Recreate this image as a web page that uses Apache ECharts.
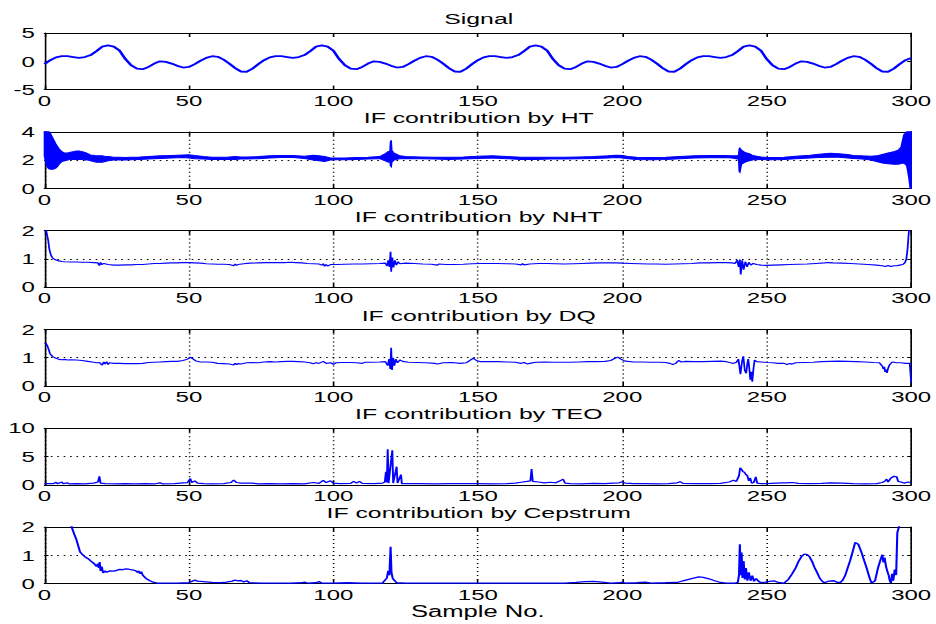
<!DOCTYPE html>
<html><head><meta charset="utf-8">
<script src="https://cdn.jsdelivr.net/npm/echarts@6/dist/echarts.min.js"></script>
<style>
html,body{margin:0;padding:0;background:#fff;overflow:hidden;}
#wrap{width:936px;height:624px;overflow:hidden;background:#fff;}
#chart{width:585px;height:624px;transform:scaleX(1.6);transform-origin:0 0;}
</style></head>
<body><div id="wrap"><div id="chart"></div></div>
<script>
// ---------- data ----------
const xTicks = [0, 50, 100, 150, 200, 250, 300];
const titles = ['Signal', 'IF contribution by HT', 'IF contribution by NHT', 'IF contribution by DQ', 'IF contribution by TEO', 'IF contribution by Cepstrum'];
const yTicks = [[-5, 0, 5], [0, 2, 4], [0, 1, 2], [0, 1, 2], [0, 5, 10], [0, 1, 2]];
const xName = 'Sample No.';

// Signal sampled every 2 samples (x = 0,2,...,300)
const sigStep = 2;
const sigY = [
 -0.5, 0.2, 0.7, 0.9, 0.9, 0.75, 0.6, 0.75, 1.1, 1.8, 2.6, 2.8, 2.6, 1.9, 0.4, -0.7, -1.3, -1.4, -1.0, -0.4, 0.0, -0.1, -0.4, -0.8, -1.1, -1.0, -0.5, 0.1, 0.6, 0.9, 0.8, 0.3, -0.4, -1.2, -1.8, -1.85, -1.3,
 -0.5, 0.2, 0.7, 0.9, 0.9, 0.75, 0.6, 0.75, 1.1, 1.8, 2.6, 2.8, 2.6, 1.9, 0.4, -0.7, -1.3, -1.4, -1.0, -0.4, 0.0, -0.1, -0.4, -0.8, -1.1, -1.0, -0.5, 0.1, 0.6, 0.9, 0.8, 0.3, -0.4, -1.2, -1.8, -1.85, -1.3,
 -0.5, 0.2, 0.7, 0.9, 0.9, 0.75, 0.6, 0.75, 1.1, 1.8, 2.6, 2.8, 2.6, 1.9, 0.4, -0.7, -1.3, -1.4, -1.0, -0.4, 0.0, -0.1, -0.4, -0.8, -1.1, -1.0, -0.5, 0.1, 0.6, 0.9, 0.8, 0.3, -0.4, -1.2, -1.8, -1.85, -1.3,
 -0.5, 0.2, 0.7, 0.9, 0.9, 0.75, 0.6, 0.75, 1.1, 1.8, 2.6, 2.8, 2.6, 1.9, 0.4, -0.7, -1.3, -1.4, -1.0, -0.4, 0.0, -0.1, -0.4, -0.8, -1.1, -1.0, -0.5, 0.1, 0.6, 0.9, 0.8, 0.3, -0.4, -1.2, -1.8, -1.85, -1.3,
 -0.5, 0.2, 0.6
];

// HT: noisy band, [x, lower envelope, upper envelope]
const htBand = [
 [0,2.3,4.0],[0.5,1.8,4.0],[1,1.5,4.0],[1.5,1.4,4.0],[2,1.35,3.9],[2.5,1.35,3.7],[3,1.35,3.5],[3.5,1.4,3.3],[4,1.45,3.1],[4.5,1.55,2.95],
 [5,1.7,2.8],[5.5,1.8,2.7],[6,1.9,2.6],[7,1.95,2.5],[8,2.0,2.5],[9,2.05,2.55],[10,2.05,2.6],[11,2.05,2.65],[12,2.05,2.65],[13,2.05,2.6],
 [14,2.0,2.55],[15,2.0,2.45],[16,1.95,2.35],[17,1.9,2.35],[18,1.85,2.3],[19,1.85,2.3],[20,1.85,2.3],[21,1.9,2.25],[22,1.95,2.25],[24,2.0,2.2],
 [26,2.0,2.2],[28,2.0,2.18],[30,2.02,2.2],[33,2.05,2.22],[36,2.08,2.25],[40,2.12,2.3],[44,2.15,2.33],[48,2.18,2.36],[50,2.15,2.38],[52,2.1,2.32],
 [55,2.08,2.25],[58,2.05,2.2],[60,2.05,2.2],[63,2.05,2.2],[66,2.05,2.25],[68,2.08,2.22],[70,2.08,2.22],[74,2.1,2.25],[78,2.15,2.3],[82,2.18,2.33],
 [86,2.18,2.32],[90,2.12,2.28],[93,2.0,2.35],[95,1.95,2.3],[97,1.9,2.25],[99,2.0,2.15],[101,2.02,2.15],[104,2.03,2.15],[108,2.05,2.18],[112,2.08,2.2],
 [116,2.1,2.25],[118,1.95,2.45],[119,1.85,2.6],[119.6,1.9,2.6],[119.8,1.6,3.3],[120,1.55,3.4],[120.2,1.85,2.7],[120.5,1.9,2.6],[121,2.0,2.5],[122,2.05,2.4],
 [123,2.1,2.3],[125,2.12,2.25],[130,2.1,2.22],[135,2.08,2.2],[140,2.05,2.2],[145,2.08,2.22],[150,2.12,2.28],[155,2.15,2.3],[160,2.1,2.25],[165,2.05,2.2],
 [170,2.05,2.2],[175,2.08,2.2],[180,2.08,2.2],[185,2.1,2.22],[190,2.12,2.25],[195,2.15,2.3],[198,2.18,2.35],[200,2.15,2.32],[202,2.1,2.25],[205,2.05,2.2],
 [210,2.03,2.18],[215,2.05,2.2],[220,2.1,2.25],[225,2.15,2.3],[230,2.17,2.32],[235,2.18,2.33],[238,2.15,2.3],[239.5,2.1,2.3],[240.3,2.05,2.35],[240.5,1.2,2.8],
 [240.7,1.15,2.85],[241.2,1.7,2.7],[242,1.8,2.6],[243,1.9,2.5],[244,1.95,2.45],[245,2.0,2.35],[246,2.02,2.3],[248,2.05,2.22],[250,2.02,2.18],[253,2.02,2.18],
 [256,2.05,2.2],[260,2.1,2.28],[265,2.15,2.35],[268,2.18,2.42],[272,2.2,2.48],[275,2.2,2.45],[278,2.15,2.4],[280,2.12,2.33],[283,2.08,2.3],[286,2.0,2.28],
 [288,1.9,2.3],[290,1.8,2.4],[292,1.75,2.5],[294,1.7,2.6],[295.5,1.7,2.7],[296.5,1.75,2.9],[297.5,1.8,3.8],[298.5,1.6,4.0],[299.2,0.8,4.0],[299.7,0,4.0],[300,0,4.0]
];

const nhtData = [[0,2.3],[0.6,2.0],[1.0,1.8],[1.3,1.65],[1.6,1.4],[1.9,1.25],[2.3,1.12],[2.7,1.05],[3.2,1.0],[4,0.96],[5,0.93],[6,0.91],[7,0.9],[9,0.89],[11,0.89],[13,0.88],[15,0.88],[17,0.87],[18.5,0.86],[19,0.76],[19.4,0.88],[19.8,0.8],[20.5,0.84],[22,0.8],[24,0.78],[26,0.78],[28,0.79],[30,0.79],[32,0.8],[34,0.8],[36,0.82],[38,0.84],[40,0.84],[42,0.85],[44,0.86],[46,0.86],[48,0.87],[50,0.87],[52,0.86],[54,0.85],[56,0.83],[58,0.82],[60,0.81],[62,0.81],[64,0.8],[65.5,0.76],[66,0.82],[66.5,0.77],[67,0.8],[69,0.83],[71,0.85],[74,0.86],[77,0.87],[80,0.87],[83,0.87],[85,0.88],[87,0.87],[89,0.86],[91,0.84],[93,0.83],[95,0.82],[96,0.78],[96.5,0.83],[97,0.74],[97.5,0.8],[98,0.75],[99,0.8],[101,0.8],[104,0.81],[107,0.82],[110,0.82],[113,0.83],[116,0.84],[118,0.85],[118.6,0.75],[119,0.95],[119.4,0.72],[119.8,1.25],[120,0.55],[120.4,1.05],[120.8,0.7],[121.3,0.95],[121.8,0.78],[122.4,0.9],[123,0.83],[125,0.85],[128,0.84],[131,0.82],[134,0.81],[136,0.78],[136.5,0.82],[139,0.8],[142,0.8],[145,0.81],[148,0.83],[151,0.84],[154,0.84],[157,0.84],[160,0.83],[163,0.82],[165,0.79],[165.5,0.83],[166,0.79],[168,0.82],[171,0.84],[174,0.84],[177,0.83],[180,0.82],[183,0.83],[186,0.84],[189,0.85],[192,0.86],[195,0.86],[198,0.86],[200,0.85],[203,0.84],[206,0.83],[209,0.82],[212,0.82],[215,0.81],[218,0.82],[221,0.83],[224,0.84],[227,0.86],[230,0.86],[233,0.87],[236,0.87],[238,0.86],[239,0.84],[239.8,0.95],[240.3,0.72],[240.7,0.98],[241,0.45],[241.5,0.95],[242,0.62],[242.6,0.9],[243.2,0.72],[243.8,0.88],[244.5,0.78],[245.3,0.84],[246.5,0.8],[248,0.78],[250,0.77],[252,0.78],[255,0.79],[258,0.8],[261,0.81],[264,0.82],[267,0.84],[270,0.86],[271,0.87],[273,0.86],[276,0.85],[279,0.84],[282,0.82],[285,0.8],[288,0.78],[290,0.76],[291,0.73],[292,0.77],[293,0.73],[294,0.76],[295,0.76],[296,0.78],[297,0.8],[297.8,0.86],[298.3,0.98],[298.7,1.3],[299,1.7],[299.3,2.1]];

const dqData = [[0,1.52],[0.5,1.5],[1,1.42],[1.5,1.28],[1.9,1.15],[2.4,1.08],[3,1.03],[4,0.98],[5,0.94],[6,0.93],[7,0.94],[8,0.92],[9,0.93],[11,0.92],[13,0.9],[15,0.87],[17,0.84],[18,0.82],[19,0.83],[20,0.74],[20.5,0.85],[21,0.78],[21.5,0.86],[22,0.76],[22.5,0.82],[24,0.8],[26,0.8],[28,0.79],[30,0.79],[32,0.79],[34,0.8],[36,0.83],[38,0.84],[40,0.85],[42,0.86],[44,0.87],[46,0.87],[48,0.9],[49.5,0.95],[50.5,1.02],[51.5,0.95],[52.5,0.88],[54,0.85],[56,0.85],[58,0.84],[60,0.8],[62,0.79],[64,0.78],[65.5,0.74],[66,0.8],[66.5,0.75],[67,0.79],[68,0.78],[70,0.82],[72,0.83],[74,0.82],[76,0.85],[78,0.86],[80,0.85],[82,0.86],[84,0.87],[86,0.87],[88,0.86],[90,0.85],[92,0.82],[93,0.79],[94,0.82],[95,0.8],[96.5,0.87],[97.5,0.8],[99,0.82],[100,0.77],[101,0.82],[103,0.83],[106,0.83],[108,0.82],[110,0.8],[111,0.84],[113,0.84],[116,0.85],[118,0.86],[118.8,0.72],[119.3,0.95],[119.7,0.6],[120,1.35],[120.3,0.57],[120.7,1.0],[121.1,0.72],[121.6,0.95],[122.2,0.82],[123,0.92],[124,0.87],[126,0.84],[129,0.83],[132,0.82],[135,0.8],[136,0.78],[138,0.82],[141,0.83],[144,0.8],[146,0.82],[147.5,0.92],[148.5,0.98],[149.5,0.9],[151,0.86],[154,0.86],[157,0.86],[160,0.85],[163,0.84],[165,0.8],[166,0.83],[167,0.78],[168,0.8],[170,0.84],[173,0.85],[176,0.84],[179,0.84],[182,0.84],[185,0.85],[188,0.86],[191,0.86],[194,0.87],[196,0.9],[197.5,0.98],[198.5,1.02],[199.5,0.95],[201,0.88],[204,0.85],[207,0.85],[210,0.84],[213,0.84],[215,0.83],[216.5,0.8],[217.5,0.76],[218.5,0.8],[219.5,0.9],[220.5,0.85],[222,0.87],[225,0.86],[228,0.86],[231,0.87],[234,0.88],[236,0.86],[237.5,0.82],[238.5,0.8],[239.5,0.84],[240.2,0.95],[240.9,0.42],[241.5,0.9],[241.9,1.05],[242.4,0.55],[242.9,0.45],[243.3,0.8],[243.6,0.95],[244,0.6],[244.3,0.22],[244.7,0.5],[245,0.15],[245.4,0.6],[245.8,0.92],[246.5,0.86],[248,0.85],[250,0.83],[252,0.82],[254,0.8],[256,0.8],[257,0.76],[258,0.8],[258.5,0.77],[260,0.82],[263,0.83],[266,0.84],[269,0.86],[272,0.87],[275,0.88],[278,0.87],[281,0.86],[284,0.85],[287,0.83],[289,0.82],[290,0.7],[290.4,0.6],[290.7,0.68],[291.0,0.5],[291.3,0.58],[291.6,0.46],[292.0,0.62],[292.5,0.75],[293.5,0.85],[295,0.82],[296.5,0.82],[298,0.8],[299.5,0.8],[299.8,0.4],[300,0.12]];

const teoData = [[0,0.2],[3,0.2],[4,0.45],[4.5,0.2],[6,0.5],[6.5,0.2],[8,0.35],[8.5,0.15],[11,0.2],[14,0.15],[17,0.3],[18.5,0.5],[19,1.5],[19.4,0.3],[21,0.2],[25,0.15],[28,0.2],[31,0.15],[35,0.2],[38,0.15],[40,0.35],[41,0.15],[45,0.2],[48,0.35],[49.5,0.4],[50.5,1.1],[51,0.4],[52,0.7],[53,0.3],[55,0.2],[58,0.15],[62,0.2],[64.5,0.4],[65.5,0.85],[66.5,0.4],[68,0.3],[72,0.3],[74,0.15],[78,0.2],[82,0.15],[86,0.2],[90,0.15],[93,0.4],[95,0.25],[96.5,0.8],[97.5,0.4],[99,0.7],[100,0.3],[102,0.2],[106,0.25],[107,0.6],[108,0.3],[109,0.6],[110,0.25],[114,0.2],[117,0.3],[117.8,0.5],[118.2,2.3],[118.5,0.4],[118.8,6.3],[119.1,0.3],[120.4,6.1],[120.7,0.3],[121.9,3.2],[122.2,0.3],[123.4,1.8],[123.7,0.2],[126,0.2],[130,0.2],[135,0.15],[140,0.2],[145,0.2],[150,0.2],[155,0.15],[160,0.2],[163,0.3],[165,0.45],[167,0.6],[168.2,0.7],[168.6,2.8],[169,0.6],[171,0.5],[173,0.35],[175,0.45],[177,0.35],[178.5,0.7],[179.5,1.0],[180.2,0.3],[182,0.2],[186,0.15],[190,0.25],[194,0.2],[197,0.3],[199,0.35],[200,0.55],[201,0.3],[204,0.2],[208,0.2],[212,0.15],[216,0.2],[219,0.35],[220,0.55],[221,0.25],[225,0.2],[230,0.2],[234,0.25],[237,0.5],[238.5,0.8],[239.5,0.6],[240.4,1.6],[240.8,3.0],[241.3,2.7],[241.8,2.3],[242.3,2.2],[242.8,1.8],[243.3,1.6],[243.8,0.7],[244.3,1.2],[244.8,0.3],[245.5,0.4],[246.2,1.4],[246.7,0.3],[248,0.2],[250,0.2],[253,0.3],[256,0.35],[259,0.4],[261,0.25],[265,0.2],[269,0.25],[272,0.35],[276,0.3],[280,0.2],[284,0.15],[288,0.2],[290,0.4],[291,0.7],[291.5,1.0],[292,0.5],[293,1.2],[294,1.5],[295,1.4],[295.5,0.6],[296.5,0.5],[297.5,0.3],[299,0.5],[300,0.3]];

const cepData = [[5,3.5],[8,2.5],[9.4,2.0],[10.3,1.75],[11.1,1.54],[11.8,1.3],[12.3,1.12],[13.2,1.02],[14,0.95],[15.1,0.88],[16,0.8],[17,0.72],[17.6,0.66],[18,0.6],[18.5,0.7],[18.8,0.55],[19.1,0.76],[19.4,0.45],[19.8,0.6],[20.3,0.38],[21,0.45],[21.5,0.4],[22.7,0.45],[24,0.44],[25,0.47],[26,0.5],[27,0.49],[28.4,0.52],[29.5,0.5],[30.7,0.48],[31.5,0.46],[32.2,0.4],[32.6,0.45],[33,0.35],[33.5,0.42],[34,0.3],[35.3,0.17],[36.5,0.1],[37.6,0.05],[39,0.02],[42,0.02],[46,0.02],[50,0.03],[51,0.08],[52,0.12],[53,0.09],[55,0.07],[58,0.04],[61,0.03],[63,0.05],[65,0.09],[66,0.12],[67,0.1],[68,0.11],[69,0.06],[70,0.1],[71,0.03],[75,0.02],[85,0.02],[89,0.03],[90,0.05],[91,0.02],[94,0.03],[95,0.07],[96,0.02],[100,0.02],[105,0.03],[110,0.02],[117,0.02],[118.5,0.2],[119,0.45],[119.4,0.3],[119.8,1.3],[120.1,0.4],[120.5,0.2],[121,0.12],[122,0.03],[125,0.02],[130,0.02],[140,0.02],[150,0.02],[160,0.02],[170,0.02],[180,0.02],[184,0.04],[187,0.07],[190,0.08],[193,0.05],[196,0.02],[199,0.03],[200,0.05],[201,0.02],[205,0.03],[208,0.05],[210,0.02],[215,0.03],[219,0.04],[221,0.1],[223,0.15],[225,0.2],[226.5,0.24],[228,0.22],[230,0.17],[232,0.1],[234,0.04],[236,0.02],[239,0.02],[240,0.04],[240.4,0.3],[240.7,1.39],[241,0.3],[241.3,1.1],[241.6,0.2],[242,0.8],[242.4,0.15],[242.8,0.55],[243.3,0.1],[243.8,0.4],[244.4,0.1],[245,0.28],[245.6,0.08],[246.3,0.18],[247.2,0.08],[248,0.03],[249.5,0.05],[251,0.08],[252.5,0.1],[254,0.04],[256,0.02],[257.5,0.15],[258.7,0.33],[260,0.55],[260.9,0.76],[262,0.95],[263,1.04],[264,1.02],[264.8,0.95],[265.7,0.78],[266.5,0.58],[267.4,0.4],[268.3,0.2],[269.2,0.08],[270,0.03],[271.5,0.09],[273.3,0.1],[274.5,0.04],[275.5,0.04],[276.3,0.12],[277.2,0.3],[278,0.55],[278.9,0.82],[279.8,1.15],[280.6,1.45],[281.7,1.39],[282.8,1.1],[283.7,0.82],[284.6,0.55],[285.7,0.17],[286.3,0.02],[287.5,0.1],[288.5,0.55],[289.4,0.85],[290,1.02],[290.4,0.75],[290.8,0.92],[291.3,0.6],[291.7,0.45],[292.2,0.3],[292.6,0.1],[293,0.02],[293.4,0.35],[293.8,0.1],[294.3,0.5],[294.8,0.3],[295.2,1.8],[295.9,2.05]];

// ---------- layout / style ----------
const BLUE = '#0000ff';
const FONT = 'Liberation Sans, Arial, Helvetica, sans-serif';
const tops = [33, 131.8, 230.6, 329.4, 428.2, 527];
const H = 56.6, L = 27.8, R = 14.4;
const plotCenter = L + (585 - L - R) / 2;

const grids = [], xAxes = [], yAxes = [], series = [], titleList = [];
tops.forEach((t, i) => {
  grids.push({left: L, right: R, top: t, height: H, containLabel: false});
  const yt = yTicks[i];
  const hasGrid = i > 0;
  const split = {show: hasGrid, lineStyle: {color: '#000', width: 1, type: [1, 3]}};
  const lbl = {color: '#000', fontSize: 15, fontFamily: FONT};
  const isLast = i === tops.length - 1;
  xAxes.push({
    gridIndex: i, type: 'value', position: 'bottom',
    min: xTicks[0], max: xTicks[xTicks.length - 1], interval: xTicks[1] - xTicks[0],
    axisLine: {show: true, onZero: false, lineStyle: {color: '#000', width: 1}},
    axisTick: {show: true, inside: true, length: 4, lineStyle: {color: '#000'}},
    axisLabel: Object.assign({margin: 3.5}, lbl),
    splitLine: split,
    name: isLast ? xName : '', nameLocation: 'middle', nameGap: 20,
    nameTextStyle: {color: '#000', fontSize: 16, fontFamily: FONT}
  });
  xAxes.push({
    gridIndex: i, type: 'value', position: 'top',
    min: xTicks[0], max: xTicks[xTicks.length - 1], interval: xTicks[1] - xTicks[0],
    axisLine: {show: true, onZero: false, lineStyle: {color: '#000', width: 1}},
    axisTick: {show: true, inside: true, length: 4, lineStyle: {color: '#000'}},
    axisLabel: {show: false}, splitLine: {show: false}
  });
  yAxes.push({
    gridIndex: i, type: 'value', position: 'left',
    min: yt[0], max: yt[yt.length - 1], interval: yt[1] - yt[0],
    axisLine: {show: true, onZero: false, lineStyle: {color: '#000', width: 1}},
    axisTick: {show: true, inside: true, length: 2.5, lineStyle: {color: '#000'}},
    axisLabel: Object.assign({margin: 6}, lbl),
    splitLine: split
  });
  yAxes.push({
    gridIndex: i, type: 'value', position: 'right',
    min: yt[0], max: yt[yt.length - 1], interval: yt[1] - yt[0],
    axisLine: {show: true, onZero: false, lineStyle: {color: '#000', width: 1}},
    axisTick: {show: true, inside: true, length: 2.5, lineStyle: {color: '#000'}},
    axisLabel: {show: false}, splitLine: {show: false}
  });
  titleList.push({
    text: titles[i], left: plotCenter, top: t - 22.5, textAlign: 'center', padding: 0,
    textStyle: {color: '#000', fontSize: 15.5, fontWeight: 'normal', fontFamily: FONT}
  });
});

function lineSeries(idx, data, w) {
  return {
    type: 'line', xAxisIndex: idx * 2, yAxisIndex: idx * 2, data: data,
    showSymbol: false, symbol: 'none', clip: true, animation: false, silent: true,
    lineStyle: {color: BLUE, width: w}
  };
}

series.push(lineSeries(0, sigY.map((v, k) => [k * sigStep, v]), 1.8));
series.push({
  type: 'custom', xAxisIndex: 2, yAxisIndex: 2, coordinateSystem: 'cartesian2d',
  data: [[0, 0]], encode: {x: 0, y: 1}, silent: true, animation: false,
  renderItem: function (params, api) {
    const pts = [];
    for (let k = 0; k < htBand.length; k++) pts.push(api.coord([htBand[k][0], htBand[k][2]]));
    for (let k = htBand.length - 1; k >= 0; k--) pts.push(api.coord([htBand[k][0], htBand[k][1]]));
    return {type: 'polygon', shape: {points: pts}, style: {fill: BLUE, stroke: BLUE, lineWidth: 1}};
  }
});
series.push(lineSeries(2, nhtData, 1.1));
series.push(lineSeries(3, dqData, 1.1));
series.push(lineSeries(4, teoData, 1.2));
series.push(lineSeries(5, cepData, 1.3));

const chart = echarts.init(document.getElementById('chart'), null, {renderer: 'svg'});
chart.setOption({
  backgroundColor: '#fff',
  animation: false,
  title: titleList,
  grid: grids,
  xAxis: xAxes,
  yAxis: yAxes,
  series: series
});
</script>
</body></html>
